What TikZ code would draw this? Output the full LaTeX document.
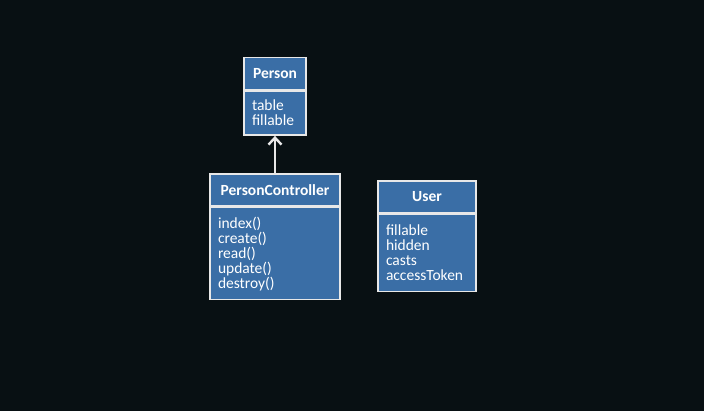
\documentclass[tikz,border=0pt]{standalone}
\usepackage{fontspec}
\setmainfont{Carlito}
\usetikzlibrary{arrows.meta,positioning}
\definecolor{bgdark}{HTML}{081013}
\definecolor{classblue}{HTML}{3A6EA6}
\definecolor{lineclr}{HTML}{E8E8E8}

\begin{document}
\begin{tikzpicture}[x=1pt,y=1pt]
\tikzset{every node/.style={draw=lineclr,line width=1.6pt,fill=classblue,text=white,
font=\fontsize{15.5}{15}\selectfont,inner sep=0pt},
classhead/.style={minimum height=32pt,font=\fontsize{15.5}{15}\selectfont\bfseries},
classbody/.style={align=left,inner xsep=8pt,anchor=north}}
\fill[bgdark] (0,0) rectangle (704,411);
\useasboundingbox (0,0) rectangle (704,411);

\node[classhead,minimum width=62pt] (Person) at (275,337.5) {Person};
\node[classbody,text width=46pt,minimum height=44pt] (Person fields) at (Person.south) {table\\fillable};

\node[classhead,minimum width=130pt] (PersonController) at (275,221) {PersonController};
\node[classbody,text width=114pt,minimum height=92pt] (PersonController methods) at (PersonController.south)
{index()\\create()\\read()\\update()\\destroy()};

\node[classhead,minimum width=98pt] (User) at (427,214) {User};
\node[classbody,text width=82pt,minimum height=77pt] (User fields) at (User.south)
{fillable\\hidden\\casts\\accessToken};

\draw[lineclr,line width=2.4pt,-{Straight Barb[length=7pt,width=13pt]}]
(PersonController.north) -- (Person fields.south);
\end{tikzpicture}
\end{document}
